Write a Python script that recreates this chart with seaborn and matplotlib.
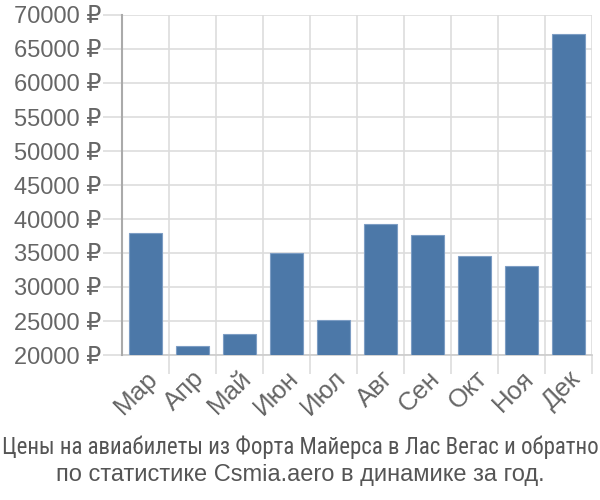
import pandas as pd
import seaborn as sns
import matplotlib.pyplot as plt
from matplotlib.ticker import FixedLocator, FuncFormatter

# data
months = ["Мар", "Апр", "Май", "Июн", "Июл", "Авг", "Сен", "Окт", "Ноя", "Дек"]
prices = [37960, 21380, 23080, 34930, 25200, 39280, 37710, 34630, 33060, 67170]
y_ticks = [20000, 25000, 30000, 35000, 40000, 45000, 50000, 55000, 60000, 65000, 70000]
title_1 = "Цены на авиабилеты из Форта Майерса в Лас Вегас и обратно"
title_2 = "по статистике Csmia.aero в динамике за год."

df = pd.DataFrame({"month": months, "price": prices})

sns.set_style("white")
plt.rcParams["font.family"] = ["Liberation Sans", "DejaVu Sans"]

fig = plt.figure(figsize=(6, 5), dpi=100)
ax = fig.add_axes([122 / 600, 1 - 355 / 500, 470 / 600, 340 / 500])

sns.barplot(data=df, x="month", y="price", color="#4c78a8", saturation=1, width=0.72,
            edgecolor="#7d9dc4", linewidth=0.8, ax=ax, zorder=3)

ax.set_ylim(20000, 70000)
ax.set_xlim(-0.5, len(months) - 0.5)
ax.set_xlabel("")
ax.set_ylabel("")

# y grid + ticks
ax.yaxis.set_major_locator(FixedLocator(y_ticks))
ax.yaxis.set_major_formatter(FuncFormatter(lambda v, p: f"{int(v)} ₽"))
ax.grid(axis="y", color="#dddddd", linewidth=1.2, zorder=0)
ax.tick_params(axis="y", length=14, width=1.2, color="#dddddd", labelsize=17,
               labelcolor="#666666", pad=1, left=True)

# vertical lines between categories, labels at centres
ax.xaxis.set_minor_locator(FixedLocator([i + 0.5 for i in range(len(months))]))
ax.grid(axis="x", which="minor", color="#dddddd", linewidth=1.2, zorder=0)
ax.tick_params(axis="x", which="minor", length=14, width=1.2, color="#dddddd", bottom=True)
ax.tick_params(axis="x", which="major", length=0, labelsize=18.5, labelcolor="#666666", pad=8)
for lab in ax.get_xticklabels():
    lab.set_rotation(45)
    lab.set_ha("right")
    lab.set_rotation_mode("anchor")

for s in ["top", "right"]:
    ax.spines[s].set_visible(False)
ax.spines["left"].set_color("#aaaaaa")
ax.spines["left"].set_linewidth(1.5)
ax.spines["bottom"].set_color("#cccccc")
ax.spines["bottom"].set_linewidth(1.2)
ax.spines["left"].set_zorder(4)

t1 = fig.text(0.5, 1 - 447 / 500, title_1, ha="center", va="center", fontsize=17,
              color="#555555",
              family=["Liberation Sans Narrow", "Roboto Condensed", "Roboto", "Liberation Sans"])
fig.text(0.5, 1 - 475 / 500, title_2, ha="center", va="center", fontsize=17,
         color="#555555")

# shrink first line so it fits the width (it is squeezed in the reference)
r = fig.canvas.get_renderer()
w = t1.get_window_extent(r).width
if w > 598:
    t1.set_fontsize(17 * 598 / w)

fig.savefig("out.png", dpi=100)
